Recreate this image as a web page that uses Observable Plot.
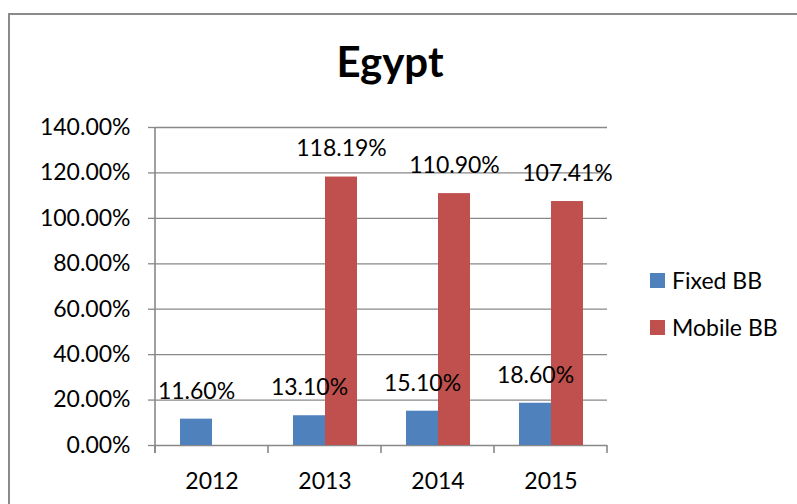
<!DOCTYPE html>
<html><head><meta charset="utf-8">
<script src="https://cdn.jsdelivr.net/npm/d3@7"></script>
<script src="https://cdn.jsdelivr.net/npm/@observablehq/plot@0.6"></script>
<style>
body{margin:0;background:#fff;font-family:Lato,"Open Sans",sans-serif;color:#000;}
#wrap{position:relative;width:797px;height:504px;overflow:hidden;background:#fff;}
#border{position:absolute;left:8px;top:13px;width:820px;height:540px;border:2px solid #8a8a8a;box-sizing:border-box;}
#title{position:absolute;left:0;width:780px;top:40px;text-align:center;font-weight:bold;font-size:42px;line-height:42px;}
#chart{position:absolute;left:0;top:0;}
.leg{position:absolute;left:650px;display:flex;align-items:center;font-size:23px;line-height:23px;}
.leg span.sw{display:inline-block;width:15px;height:15px;margin-right:7px;}
</style></head>
<body>
<div id="wrap">
  <div id="border"></div>
  <div id="chart"></div>
  <div id="title">Egypt</div>
  <div id="legend"></div>
</div>
<script>
const years = ["2012", "2013", "2014", "2015"];
const series = ["Fixed BB", "Mobile BB"];
const colors = ["#4F81BD", "#C0504D"];
const fixedBB = [11.60, 13.10, 15.10, 18.60];
const mobileBB = [null, 118.19, 110.90, 107.41];
const yTicks = [0, 20, 40, 60, 80, 100, 120, 140];

const rows = [];
years.forEach((yr, i) => {
  if (fixedBB[i] != null) rows.push({year: yr, series: series[0], value: fixedBB[i]});
  if (mobileBB[i] != null) rows.push({year: yr, series: series[1], value: mobileBB[i]});
});
const pct = d => d.toFixed(2) + "%";
const gray = "#888888";

const plot = Plot.plot({
  width: 797, height: 504,
  marginLeft: 153, marginRight: 189, marginTop: 127, marginBottom: 59,
  style: {fontFamily: "Lato, 'Open Sans', sans-serif", background: "transparent", color: "#000"},
  fx: {domain: years, padding: 0},
  x: {domain: series, paddingInner: 0, paddingOuter: 0.75, axis: null},
  y: {domain: [0, 140]},
  color: {domain: series, range: colors},
  marks: [
    Plot.ruleY(yTicks, {stroke: gray, strokeWidth: 1.3}),
    Plot.barY(rows, {fx: "year", x: "series", y: "value", fill: "series"}),
    Plot.text(rows, {fx: "year", x: "series", y: "value", text: d => pct(d.value), dy: -28, fontSize: 23, fill: "#000", lineAnchor: "middle"}),
    Plot.axisY({ticks: yTicks, tickFormat: pct, tickSize: 7, tickPadding: 18, fontSize: 23, stroke: gray, strokeWidth: 1.3, label: null}),
    Plot.axisFx({anchor: "bottom", tickSize: 0, tickPadding: 27, fontSize: 23, label: null})
  ]
});
document.getElementById("chart").appendChild(plot);

// axis line and category boundary ticks from the plot's own scales
const fx = plot.scale("fx"), ys = plot.scale("y");
const bounds = years.map(v => fx.apply(v));
bounds.push(fx.apply(years[years.length - 1]) + fx.bandwidth);
const y0 = ys.apply(0), yTop = ys.apply(140);
const g = d3.select(plot).append("g").attr("stroke", gray).attr("stroke-width", 1.6);
g.append("line").attr("x1", bounds[0]).attr("x2", bounds[0]).attr("y1", yTop).attr("y2", y0 + 8);
g.selectAll("line.t").data(bounds).join("line").attr("class", "t")
  .attr("x1", d => d).attr("x2", d => d).attr("y1", y0).attr("y2", y0 + 8);

const legend = document.getElementById("legend");
const legTops = [269, 316];
series.forEach((s, i) => {
  const el = document.createElement("div");
  el.className = "leg";
  el.style.top = legTops[i] + "px";
  el.innerHTML = `<span class="sw" style="background:${colors[i]}"></span><span>${s}</span>`;
  legend.appendChild(el);
});
</script>
</body></html>
